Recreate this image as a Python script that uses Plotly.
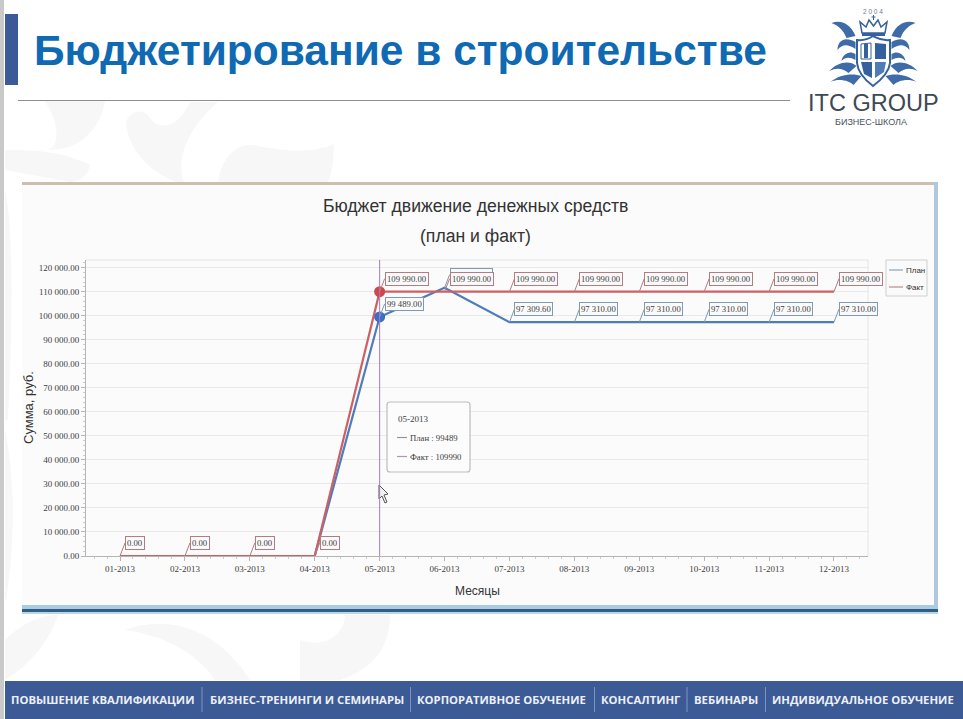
import plotly.graph_objects as go

W, H = 963, 719
PL, PR, PT, PB = 86, 868, 260, 556   # plot rectangle in page pixels

# ---------- data ----------
months = ["01-2013", "02-2013", "03-2013", "04-2013", "05-2013", "06-2013",
          "07-2013", "08-2013", "09-2013", "10-2013", "11-2013", "12-2013"]
plan = [0, 0, 0, 0, 99489, 111650, 97309.6, 97310, 97310, 97310, 97310, 97310]
fact = [0, 0, 0, 0, 109990, 109990, 109990, 109990, 109990, 109990, 109990, 109990]
y_ticks = [0, 10000, 20000, 30000, 40000, 50000, 60000, 70000, 80000, 90000, 100000, 110000, 120000]
focus = 4
plan_name, fact_name = "План", "Факт"
title_main = "Бюджетирование в строительстве"
chart_title = ["Бюджет движение денежных средств", "(план и факт)"]
footer_items = ["ПОВЫШЕНИЕ КВАЛИФИКАЦИИ", "БИЗНЕС-ТРЕНИНГИ И СЕМИНАРЫ", "КОРПОРАТИВНОЕ ОБУЧЕНИЕ",
                "КОНСАЛТИНГ", "ВЕБИНАРЫ", "ИНДИВИДУАЛЬНОЕ ОБУЧЕНИЕ"]

# ---------- style ----------
C_PLAN, C_FACT = "#4F7DB9", "#CC6165"
NARROW = "Liberation Serif"
SANS = "Liberation Sans"
TXT = "#3d3d3d"


def fmt(v):
    return f"{v:,.2f}".replace(",", " ")


def px(x):
    return (x - PL) / (PR - PL)


def py(y):
    return (PB - y) / (PB - PT)


def path(*cmds):
    """Page-pixel path to paper coordinates: items are letters or (x, y)."""
    out = ["M"]
    last, prev_point = "M", False
    for c in cmds:
        if isinstance(c, str):
            out.append(c)
            last, prev_point = c, False
        else:
            if last == "L" and prev_point:
                out.append("L")
            out.append(f"{px(c[0]):.5f},{py(c[1]):.5f}")
            prev_point = True
    return " ".join(out)


shapes, annos = [], []


def rect(x0, y0, x1, y1, fill, line=None, lw=1, layer="below"):
    shapes.append(dict(type="rect", xref="paper", yref="paper", x0=px(x0), x1=px(x1), y0=py(y0), y1=py(y1),
                       fillcolor=fill, line=dict(color=line or "rgba(0,0,0,0)", width=lw if line else 0), layer=layer))


def hline(x0, y0, x1, y1, color, lw=1, layer="below"):
    shapes.append(dict(type="line", xref="paper", yref="paper", x0=px(x0), x1=px(x1), y0=py(y0), y1=py(y1),
                       line=dict(color=color, width=lw), layer=layer))


def poly(cmds, fill="rgba(0,0,0,0)", line=None, lw=1, layer="below"):
    shapes.append(dict(type="path", xref="paper", yref="paper", path=path(*cmds), fillcolor=fill,
                       line=dict(color=line or "rgba(0,0,0,0)", width=lw if line else 0), layer=layer))


def text(x, y, s, size, color, family=SANS, anchor="left", angle=0, vanchor="middle"):
    annos.append(dict(xref="paper", yref="paper", x=px(x), y=py(y), text=s, showarrow=False, xanchor=anchor,
                      yanchor=vanchor, textangle=angle, font=dict(size=size, color=color, family=family),
                      borderpad=0, bgcolor="rgba(0,0,0,0)"))


# ---------- page chrome ----------
rect(0, 0, 4, H, "#C9C9C9")
WM = "#F7F7F7"
for pts in [
    # upper watermark, above the chart panel
    [(126, 122), "C", (128, 150), (150, 172), (176, 182), "L", (184, 182), "C", (176, 160), (186, 130), (218, 102),
     "L", (190, 102), "C", (180, 125), (160, 135), (148, 115), "C", (140, 108), (130, 112), (126, 122), "Z"],
    [(218, 182), "C", (222, 155), (240, 140), (258, 146), "C", (280, 150), (310, 155), (334, 144), "C", (334, 160), (332, 172), (328, 182), "Z"],
    [(5, 150), "C", (30, 150), (60, 150), (90, 165), "C", (88, 175), (80, 182), (70, 182), "L", (5, 170), "Z"],
    [(45, 101), "C", (60, 125), (60, 145), (48, 150), "C", (80, 150), (100, 130), (105, 101), "Z"],
    # lower watermark, below the chart panel
    [(300, 640), "C", (330, 650), (345, 630), (345, 615), "L", (390, 615), "C", (390, 650), (370, 670), (340, 680), "L", (300, 680), "Z"],
    [(125, 630), "C", (165, 615), (215, 625), (250, 680), "L", (215, 680), "C", (195, 650), (160, 635), (125, 630), "Z"],
    [(5, 640), "C", (25, 620), (45, 615), (58, 615), "C", (50, 640), (30, 665), (5, 680), "Z"],
    # left margin
    [(5, 190), "C", (12, 220), (14, 300), (8, 420), "L", (5, 420), "Z"],
    [(5, 430), "C", (14, 470), (16, 540), (6, 600), "L", (5, 600), "Z"],
]:
    poly(pts, fill=WM)

rect(5, 14, 18, 85, "#3B5A97")
text(33, 51, f"<b>{title_main}</b>", 42.5, "#0F69B3")
hline(18, 100.5, 790, 100.5, "#8E8E8E", 1)

# chart panel
rect(22, 182, 937, 612, "#FBFBFB")
rect(22, 182, 937, 185, "#CDBFAE")
rect(934, 182, 938, 612, "#AFC8DE")
rect(22, 605, 938, 609, "#A9CBE3")
rect(22, 609, 938, 612, "#2F5F82")
rect(22, 612, 938, 614, "#B9D5E8")
for i, s in enumerate(chart_title):
    text(475, [206, 236][i], s, 17.6, "#333333", anchor="center")

# footer
rect(5, 681, W, 719, "#3C5A96")
foot_x = [10, 209, 416, 600, 693, 771]
for x, s in zip(foot_x, footer_items):
    text(x, 699.5, f"<b>{s}</b>", 11.3, "#EDF1F7", family="Open Sans")
for x in [202, 410.5, 594.5, 687, 765.5]:
    hline(x, 687, x, 712, "#7F95BF", 1)

# ---------- logo ----------
LB = "#34609F"
for sign in (-1, 1):
    cx = 873.5

    def m(x, y, s=sign):
        return (cx + s * x, y)

    for a in [
        [m(18, 36), "C", m(24, 22), m(34, 20), m(42, 23), "C", m(36, 25), m(30, 30), m(27, 38), "Z"],
        [m(18, 42), "C", m(28, 36), m(36, 40), m(36, 50), "C", m(31, 44), m(26, 44), m(18, 49), "Z"],
        [m(18, 54), "C", m(24, 50), m(31, 54), m(32, 61), "C", m(28, 57), m(24, 57), m(18, 60), "Z"],
        [m(17, 66), "C", m(24, 60), m(36, 62), m(44, 71), "C", m(36, 67), m(30, 69), m(25, 73), "Z"],
        [m(12, 76), "C", m(20, 73), m(34, 74), m(43, 82), "C", m(34, 78), m(24, 81), m(20, 85), "Z"],
    ]:
        poly(a, fill="#3F6BA9")
poly([(857, 40), "C", (866, 41), (870, 38), (873, 36), "C", (877, 38), (881, 41), (890, 40), "L", (890, 63),
      "C", (889, 73), (881, 80), (873, 86), "C", (865, 80), (858, 73), (857, 63), "Z"], fill="#FFFFFF", line=LB, lw=2)
poly([(861, 44), "L", (871, 43), (871, 59), (861, 59), "Z"], fill="#FFFFFF", line=LB, lw=1)
poly([(864, 44), "L", (868, 44), (868, 58), (864, 58), "Z"], fill=LB)
poly([(875, 43), "L", (886, 44), (886, 59), (875, 59), "Z"], fill=LB)
poly([(861, 62), "L", (872, 62), (872, 78), (864, 74), "Z"], fill=LB)
poly([(875, 62), "L", (886, 62), (884, 72), (875, 78), "Z"], fill="#4F7CB6")
poly([(862, 33), "L", (860, 22), (866, 27), (869, 20), (873.5, 26), (878, 20), (881, 27), (887, 22), (885, 33), "Z"], fill="#FFFFFF", line=LB, lw=1.5)
poly([(862, 33), "L", (885, 33), (885, 36), (862, 36), "Z"], fill=LB)
hline(873.5, 15, 873.5, 20, LB, 1)
hline(871.5, 17, 875.5, 17, LB, 1)
text(873.5, 12, "2 0 0 4", 6.5, "#6C7E96", anchor="center")
text(873.5, 103, "ITC GROUP", 23.5, "#3C4A55", anchor="center")
text(870.5, 122, "БИЗНЕС-ШКОЛА", 9, "#4A5560", anchor="center")


# ---------- chart annotations ----------
def label(i, v, color, dy, ax=5):
    annos.append(dict(x=i, y=v, xref="x", yref="y", axref="pixel", ayref="pixel", ax=ax, ay=dy,
                      text=fmt(v), xanchor="left", yanchor="middle", showarrow=True, arrowhead=0, arrowwidth=1,
                      arrowcolor=color, startstandoff=0, standoff=0, bgcolor="#FAFAFA", bordercolor=color,
                      borderwidth=1, borderpad=1, font=dict(size=8.7, family=NARROW, color=TXT)))


for i, v in enumerate(plan):
    if v != 0:
        label(i, v, "#7F9BAF", -13)
for i, v in enumerate(fact):
    label(i, v, "#B47C80", -13)

# tooltip
tx0, ty0, tx1, ty1 = 387, 402, 470, 472
poly([(tx0 + 3, ty0), "L", (tx1 - 3, ty0), "Q", (tx1, ty0), (tx1, ty0 + 3), "L", (tx1, ty1 - 3), "Q", (tx1, ty1), (tx1 - 3, ty1),
      "L", (tx0 + 3, ty1), "Q", (tx0, ty1), (tx0, ty1 - 3), "L", (tx0, ty0 + 3), "Q", (tx0, ty0), (tx0 + 3, ty0), "Z"],
     fill="#FCFCFC", line="#BDBDBD", lw=1.2, layer="above")
text(397, 419, months[focus], 9, TXT, family=NARROW)
hline(397, 437.5, 407, 437.5, "#8A9AA6", 1.2, "above")
text(409, 438, f"{plan_name} : {plan[focus]}", 8.7, TXT, family=NARROW)
hline(397, 456.5, 407, 456.5, "#A89AA8", 1.2, "above")
text(409, 456.5, f"{fact_name} : {fact[focus]}", 8.7, TXT, family=NARROW)

# mouse pointer
poly([(379, 485), "L", (379, 499), (382, 496), (385, 503), (387, 502), (384, 495), (388, 494), "Z"],
     fill="#F2F2F2", line="#555555", lw=1, layer="above")

# hand-placed legend, sized like the original
rect(886, 260, 927, 296, "#FAFAFA", "#CFCFCF", 1)
hline(889, 270, 903, 270, "#8FA3B5", 1.2)
hline(889, 287, 903, 287, "#B98A8E", 1.2)
text(905, 270, plan_name, 8, "#333333")
text(905, 287, fact_name, 8, "#333333")

# axis captions
text(28, 408, "Сумма, руб.", 13, "#333333", anchor="center", angle=-90)
text(477, 591, "Месяцы", 12, "#333333", anchor="center")

# focus line
shapes.append(dict(type="line", xref="x", yref="y domain", x0=focus, x1=focus, y0=0, y1=1,
                   line=dict(color="#A080B0", width=1), layer="above"))

# ---------- traces ----------
xs = list(range(len(months)))
fig = go.Figure()
fig.add_trace(go.Scatter(x=xs, y=plan, name=plan_name, mode="lines", line=dict(color=C_PLAN, width=2.2), cliponaxis=False))
fig.add_trace(go.Scatter(x=xs, y=fact, name=fact_name, mode="lines", line=dict(color=C_FACT, width=2.2), cliponaxis=False))
fig.add_trace(go.Scatter(x=[focus], y=[plan[focus]], mode="markers", marker=dict(color="#3F6CC4", size=11), showlegend=False, cliponaxis=False))
fig.add_trace(go.Scatter(x=[focus], y=[fact[focus]], mode="markers", marker=dict(color="#D1464D", size=11), showlegend=False, cliponaxis=False))

fig.update_layout(
    width=W, height=H, margin=dict(l=PL, r=W - PR, t=PT, b=H - PB), autosize=False,
    paper_bgcolor="#FFFFFF", plot_bgcolor="rgba(0,0,0,0)", showlegend=False,
    shapes=shapes, annotations=annos,
    xaxis=dict(range=[-0.524, 11.524], tickvals=xs, ticktext=months, showgrid=False, zeroline=False,
               showline=True, linecolor="#B5B5B5", linewidth=1, ticks="outside", ticklen=4, tickcolor="#B5B5B5",
               tickfont=dict(size=9, family=NARROW, color=TXT),
               minor=dict(dtick=0.2, ticks="outside", ticklen=2, tickcolor="#CCCCCC", showgrid=False)),
    yaxis=dict(range=[0, 123177], tickvals=y_ticks, ticktext=[fmt(v) for v in y_ticks], showgrid=True, gridcolor="#E9E9E9",
               gridwidth=1, zeroline=False, showline=True, linecolor="#B5B5B5", linewidth=1, ticks="outside", ticklen=4,
               tickcolor="#B5B5B5", tickfont=dict(size=9, family=NARROW, color=TXT),
               minor=dict(dtick=2000, ticks="outside", ticklen=2, tickcolor="#CCCCCC", showgrid=False)),
)
# top and right frame of the plot
shapes_extra = [dict(type="line", xref="x domain", yref="y domain", x0=0, x1=1, y0=1, y1=1, line=dict(color="#E4E4E4", width=1), layer="below"),
                dict(type="line", xref="x domain", yref="y domain", x0=1, x1=1, y0=0, y1=1, line=dict(color="#E4E4E4", width=1), layer="below")]
fig.update_layout(shapes=list(fig.layout.shapes) + shapes_extra)

fig.write_html("out.html", config=dict(displayModeBar=False),
               post_script="document.body.style.margin='0';document.body.style.overflow='hidden';")
